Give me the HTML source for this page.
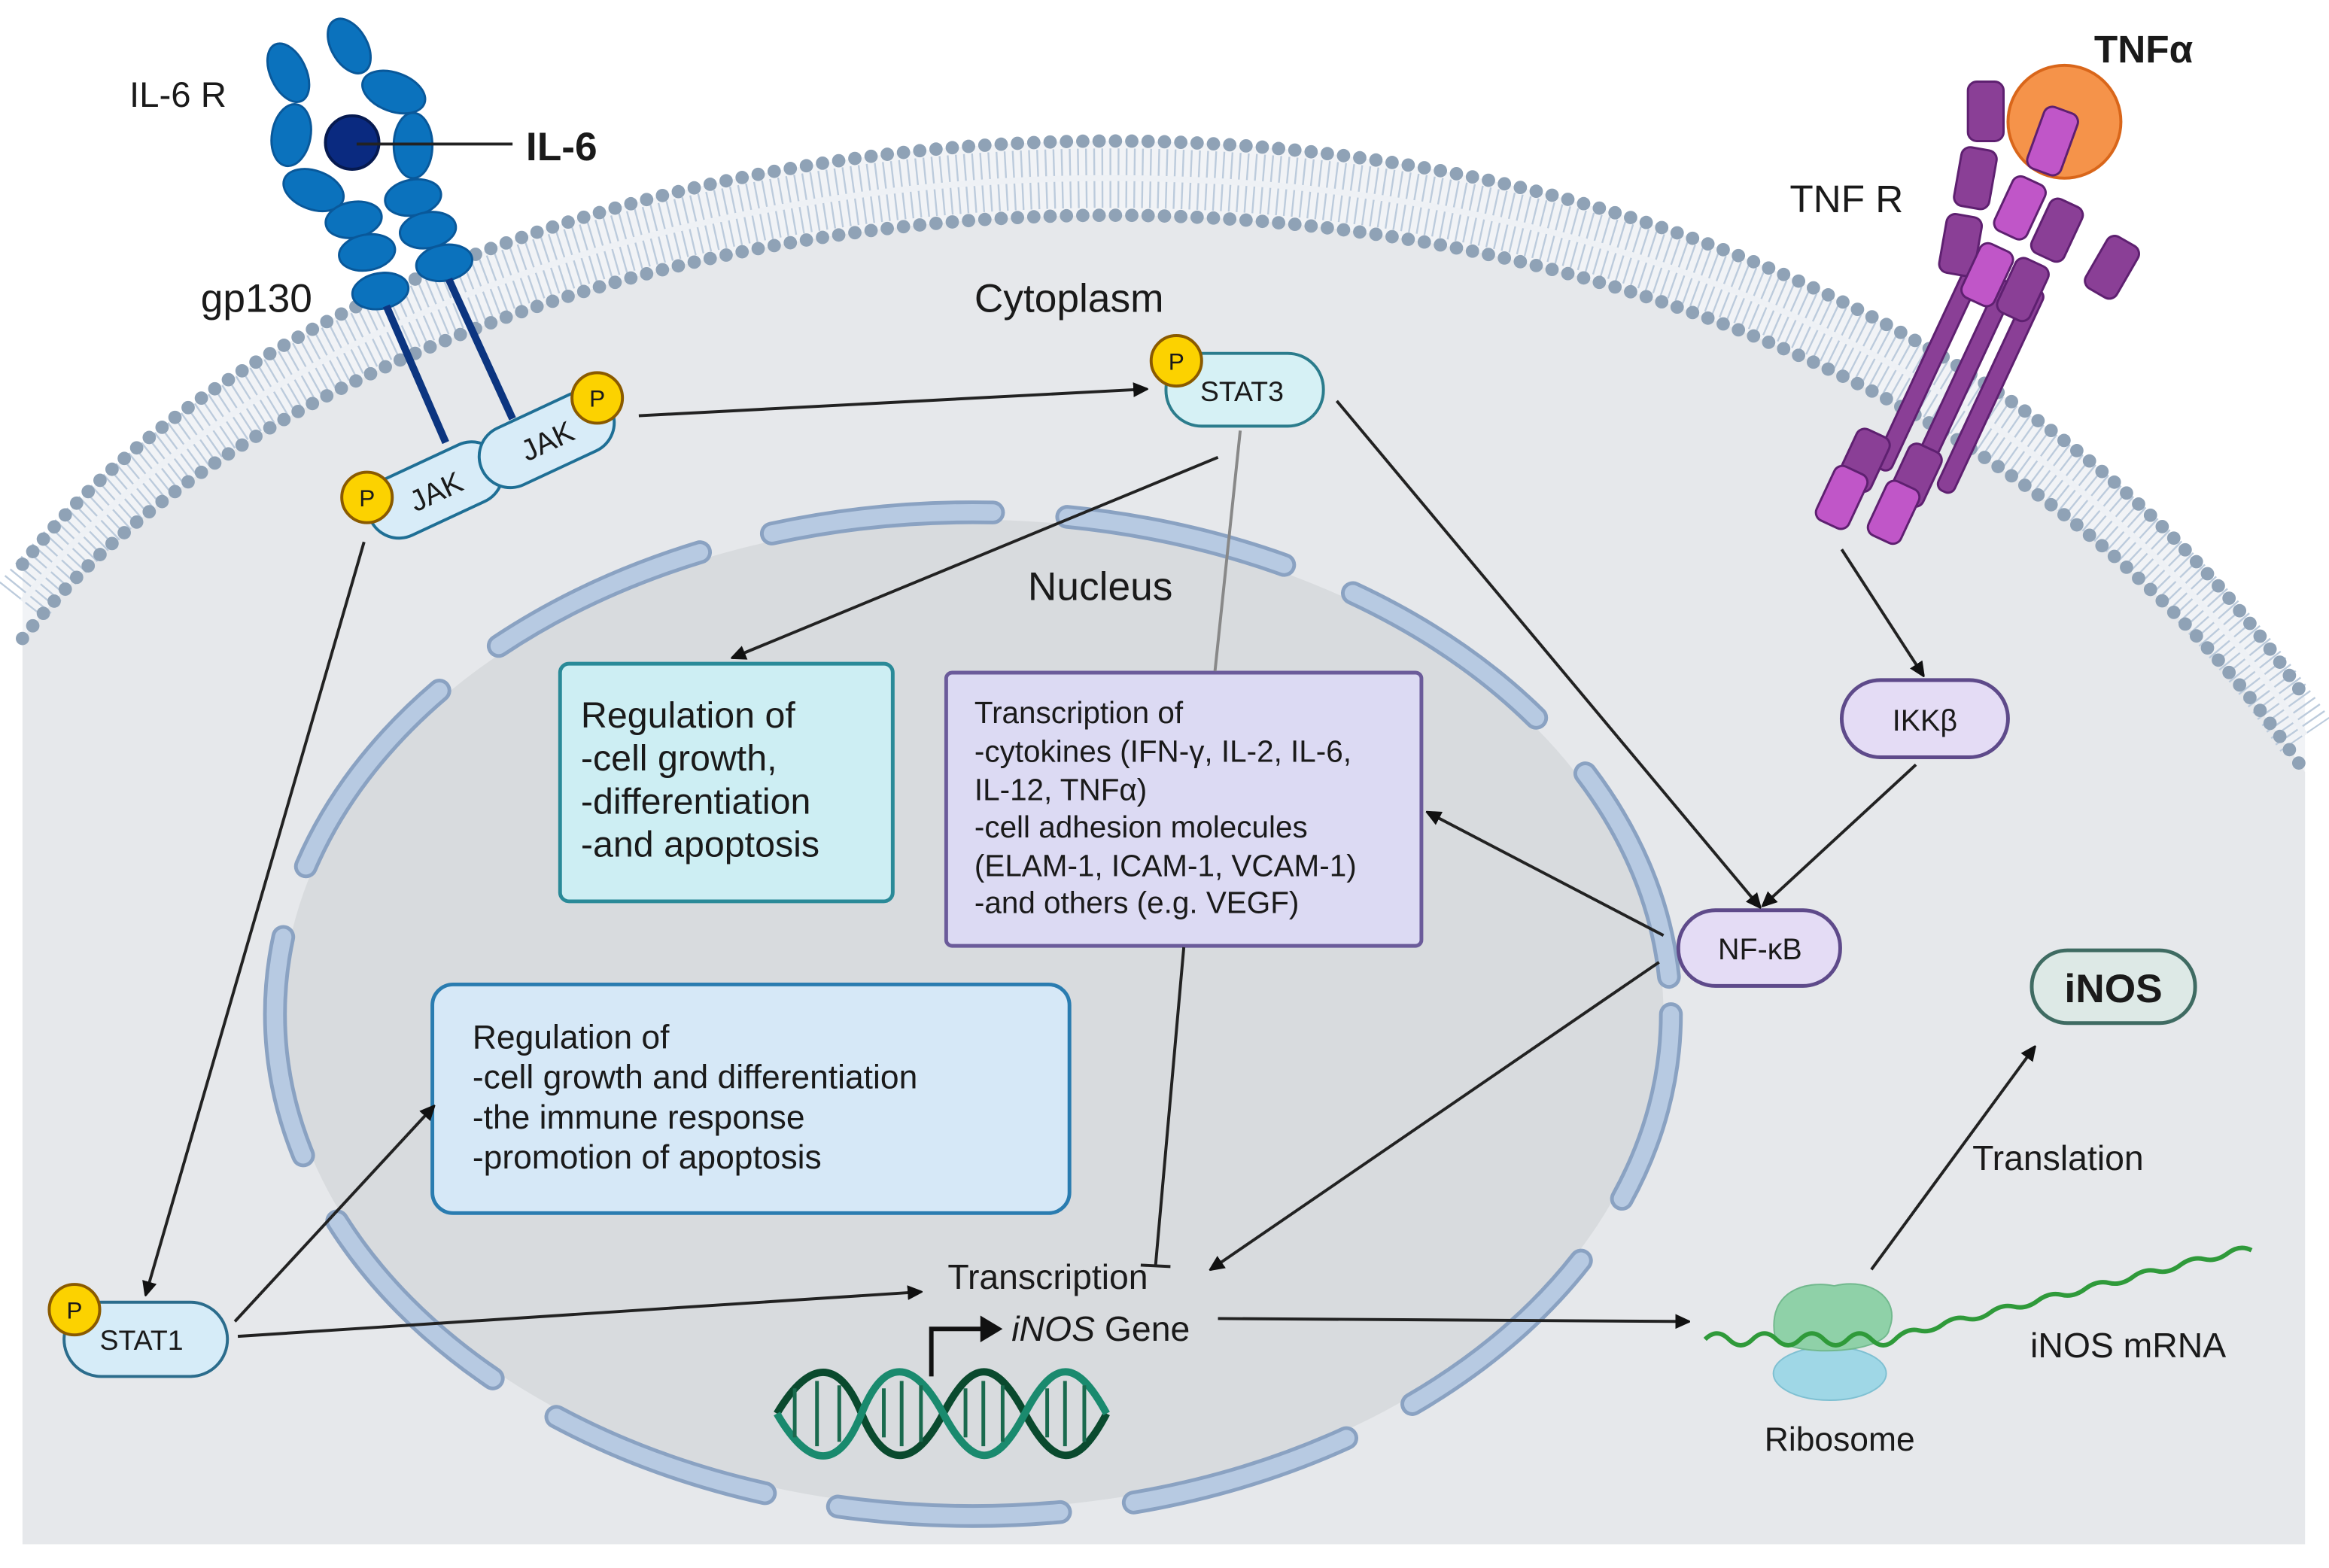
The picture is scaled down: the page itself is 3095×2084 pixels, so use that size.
<!DOCTYPE html>
<html><head><meta charset="utf-8"><style>
html,body{margin:0;padding:0;background:#fff}
svg{display:block}
text{font-family:"Liberation Sans",sans-serif;fill:#1a1a1a}
</style></head><body>
<svg width="3095" height="2084" viewBox="0 0 1568 1056" xmlns="http://www.w3.org/2000/svg">
<defs>
<marker id="ah" markerWidth="10" markerHeight="10" refX="9" refY="5" orient="auto" markerUnits="userSpaceOnUse">
<path d="M0,0 L11,5 L0,10 z" fill="#111"/></marker>
</defs>
<rect width="1568" height="1056" fill="#fff"/>
<!-- cell -->
<path d="M15,380 C300,20 1200,-50 1552,470 L1552,1040 L15,1040 Z" fill="#f1f3f6"/>
<path d="M15,430 C300,70 1200,0 1552,520 L1552,1040 L15,1040 Z" fill="#e6e8eb"/>
<path d="M15,405 C300,45 1200,-25 1552,495" fill="none" stroke="#bccbdc" stroke-width="40" stroke-dasharray="1.2 4.2"/>
<path d="M15,405 C300,45 1200,-25 1552,495" fill="none" stroke="#eef1f5" stroke-width="4"/>
<path d="M15,380 C300,20 1200,-50 1552,470" fill="none" stroke="#8fa2b6" stroke-width="9" stroke-linecap="round" stroke-dasharray="0 11"/>
<path d="M15,430 C300,70 1200,0 1552,520" fill="none" stroke="#8fa2b6" stroke-width="9" stroke-linecap="round" stroke-dasharray="0 11"/>
<!-- nucleus -->
<ellipse cx="655" cy="683" rx="465" ry="333" fill="#d8dbde"/>
<ellipse cx="655" cy="683" rx="470" ry="338" fill="none" stroke="#8aa2c2" stroke-width="16" stroke-linecap="round" stroke-dasharray="150 50" stroke-dashoffset="20"/>
<ellipse cx="655" cy="683" rx="470" ry="338" fill="none" stroke="#b7cae2" stroke-width="11" stroke-linecap="round" stroke-dasharray="150 50" stroke-dashoffset="20"/>
<text x="692" y="404" font-size="27">Nucleus</text>
<text x="656" y="210" font-size="27">Cytoplasm</text>
<!-- IL6 receptor -->
<g fill="#0b72bd" stroke="#09589a" stroke-width="1.5">
<ellipse cx="194" cy="49" rx="12" ry="21" transform="rotate(-25 194 49)"/>
<ellipse cx="196" cy="91" rx="13" ry="21" transform="rotate(10 196 91)"/>
<ellipse cx="211" cy="128" rx="21" ry="13" transform="rotate(20 211 128)"/>
<ellipse cx="238" cy="148" rx="19" ry="12" transform="rotate(-10 238 148)"/>
<ellipse cx="247" cy="170" rx="19" ry="12" transform="rotate(-10 247 170)"/>
<ellipse cx="256" cy="196" rx="19" ry="12" transform="rotate(-10 256 196)"/>
<ellipse cx="235" cy="31" rx="12" ry="20" transform="rotate(-30 235 31)"/>
<ellipse cx="265" cy="62" rx="22" ry="13" transform="rotate(20 265 62)"/>
<ellipse cx="278" cy="98" rx="13" ry="22"/>
<ellipse cx="278" cy="133" rx="19" ry="12" transform="rotate(-10 278 133)"/>
<ellipse cx="288" cy="155" rx="19" ry="12" transform="rotate(-10 288 155)"/>
<ellipse cx="299" cy="177" rx="19" ry="12" transform="rotate(-10 299 177)"/>
</g>
<circle cx="237" cy="96" r="18" fill="#0a2a80" stroke="#061a50" stroke-width="2"/>
<line x1="240" y1="97" x2="345" y2="97" stroke="#222" stroke-width="2"/>
<text x="354" y="108" font-size="27" font-weight="bold">IL-6</text>
<text x="87" y="72" font-size="24">IL-6 R</text>
<text x="135" y="210" font-size="27">gp130</text>
<line x1="260" y1="206" x2="300" y2="298" stroke="#0c3580" stroke-width="5"/>
<line x1="302" y1="188" x2="345" y2="282" stroke="#0c3580" stroke-width="5"/>
<!-- JAKs -->
<g transform="translate(293,330) rotate(-25)">
<rect x="-48" y="-21" width="96" height="42" rx="21" fill="#d8ecf8" stroke="#1f6f95" stroke-width="2"/>
<text x="0" y="8" font-size="20" text-anchor="middle">JAK</text></g>
<g transform="translate(368,296) rotate(-25)">
<rect x="-48" y="-21" width="96" height="42" rx="21" fill="#d8ecf8" stroke="#1f6f95" stroke-width="2"/>
<text x="0" y="8" font-size="20" text-anchor="middle">JAK</text></g>
<circle cx="247" cy="335" r="17" fill="#fcd200" stroke="#8a5a00" stroke-width="2"/><text x="247" y="341" font-size="16" text-anchor="middle">P</text>
<circle cx="402" cy="268" r="17" fill="#fcd200" stroke="#8a5a00" stroke-width="2"/><text x="402" y="274" font-size="16" text-anchor="middle">P</text>
<!-- STAT3 -->
<rect x="785" y="238" width="106" height="49" rx="24" fill="#d6f1f5" stroke="#2b7c8c" stroke-width="2"/>
<text x="808" y="270" font-size="19">STAT3</text>
<circle cx="792" cy="243" r="17" fill="#fcd200" stroke="#8a5a00" stroke-width="2"/><text x="792" y="249" font-size="16" text-anchor="middle">P</text>
<!-- STAT1 -->
<rect x="43" y="877" width="110" height="50" rx="25" fill="#d6ecf8" stroke="#2b6c8c" stroke-width="2"/>
<text x="67" y="909" font-size="19">STAT1</text>
<circle cx="50" cy="882" r="17" fill="#fcd200" stroke="#8a5a00" stroke-width="2"/><text x="50" y="888" font-size="16" text-anchor="middle">P</text>
<!-- TNF receptor -->
<g stroke="#5e2070" stroke-width="1.5">
<g fill="#8a3f96">
<rect x="-6" y="0" width="12" height="150" rx="5" transform="translate(1330,180) rotate(25)"/>
<rect x="-6" y="0" width="12" height="150" rx="5" transform="translate(1352,190) rotate(25)"/>
<rect x="-6" y="0" width="12" height="150" rx="5" transform="translate(1372,195) rotate(25)"/>
<rect x="-12" y="-20" width="24" height="40" rx="6" transform="translate(1337,75) rotate(0)"/>
<rect x="-12" y="-20" width="24" height="40" rx="6" transform="translate(1330,120) rotate(10)"/>
<rect x="-12" y="-20" width="24" height="40" rx="6" transform="translate(1320,165) rotate(10)"/>
<rect x="-12" y="-20" width="24" height="40" rx="6" transform="translate(1422,180) rotate(30)"/>
<rect x="-12" y="-20" width="24" height="40" rx="6" transform="translate(1385,155) rotate(25)"/>
<rect x="-12" y="-20" width="24" height="40" rx="6" transform="translate(1362,195) rotate(25)"/>
<rect x="-12" y="-20" width="24" height="40" rx="6" transform="translate(1255,310) rotate(25)"/>
<rect x="-12" y="-20" width="24" height="40" rx="6" transform="translate(1290,320) rotate(25)"/>
</g>
<circle cx="1390" cy="82" r="38" fill="#f5934a" stroke="#d9661a" stroke-width="2"/>
<g fill="#c056c8">
<rect x="-12" y="-22" width="24" height="44" rx="6" transform="translate(1382,95) rotate(20)"/>
<rect x="-12" y="-20" width="24" height="40" rx="6" transform="translate(1360,140) rotate(25)"/>
<rect x="-12" y="-20" width="24" height="40" rx="6" transform="translate(1338,185) rotate(25)"/>
<rect x="-12" y="-20" width="24" height="40" rx="6" transform="translate(1275,345) rotate(25)"/>
<rect x="-12" y="-20" width="24" height="40" rx="6" transform="translate(1240,335) rotate(25)"/>
</g>
</g>
<text x="1410" y="42" font-size="26" font-weight="bold">TNFα</text>
<text x="1205" y="143" font-size="26">TNF R</text>
<!-- IKK, NFkB, iNOS -->
<rect x="1240" y="458" width="112" height="52" rx="26" fill="#e4dcf5" stroke="#5e4a8a" stroke-width="2.5"/>
<text x="1296" y="492" font-size="20" text-anchor="middle">IKKβ</text>
<rect x="1130" y="613" width="109" height="51" rx="25" fill="#e4dcf5" stroke="#5e4a8a" stroke-width="2.5"/>
<text x="1185" y="646" font-size="20" text-anchor="middle">NF-κB</text>
<rect x="1368" y="640" width="110" height="49" rx="24" fill="#dde9e6" stroke="#3f6b62" stroke-width="2.5"/>
<text x="1423" y="675" font-size="27" font-weight="bold" text-anchor="middle">iNOS</text>
<!-- boxes -->
<rect x="377" y="447" width="224" height="160" rx="6" fill="#cdeef3" stroke="#2a8a98" stroke-width="2.5"/>
<g font-size="24.5"><text x="391" y="490">Regulation of</text><text x="391" y="519">-cell growth,</text><text x="391" y="548">-differentiation</text><text x="391" y="577">-and apoptosis</text></g>
<rect x="637" y="453" width="320" height="184" rx="4" fill="#dcdaf3" stroke="#6b5b9a" stroke-width="2.5"/>
<g font-size="20.5"><text x="656" y="487">Transcription of</text><text x="656" y="513">-cytokines (IFN-γ, IL-2, IL-6,</text><text x="656" y="539">IL-12, TNFα)</text><text x="656" y="564">-cell adhesion molecules</text><text x="656" y="590">(ELAM-1, ICAM-1, VCAM-1)</text><text x="656" y="615">-and others (e.g. VEGF)</text></g>
<rect x="291" y="663" width="429" height="154" rx="14" fill="#d6e8f7" stroke="#2a7cb0" stroke-width="2.5"/>
<g font-size="22.5"><text x="318" y="706">Regulation of</text><text x="318" y="733">-cell growth and differentiation</text><text x="318" y="760">-the immune response</text><text x="318" y="787">-promotion of apoptosis</text></g>
<!-- connectors -->
<g stroke="#222" stroke-width="2" fill="none">
<line x1="430" y1="280" x2="772" y2="262" marker-end="url(#ah)"/>
<line x1="820" y1="308" x2="493" y2="443" marker-end="url(#ah)"/>
<line x1="835" y1="290" x2="818" y2="452" stroke="#888"/>
<line x1="900" y1="270" x2="1185" y2="611" marker-end="url(#ah)"/>
<line x1="1290" y1="515" x2="1187" y2="610" marker-end="url(#ah)"/>
<line x1="1240" y1="370" x2="1295" y2="455" marker-end="url(#ah)"/>
<line x1="1120" y1="630" x2="961" y2="547" marker-end="url(#ah)"/>
<line x1="1117" y1="648" x2="815" y2="855" marker-end="url(#ah)"/>
<line x1="797" y1="638" x2="778" y2="852"/>
<line x1="768" y1="852" x2="788" y2="853"/>
<line x1="245" y1="365" x2="98" y2="872" marker-end="url(#ah)"/>
<line x1="158" y1="890" x2="292" y2="745" marker-end="url(#ah)"/>
<line x1="160" y1="900" x2="620" y2="870" marker-end="url(#ah)"/>
<line x1="820" y1="888" x2="1137" y2="890" marker-end="url(#ah)"/>
<line x1="1260" y1="855" x2="1370" y2="705" marker-end="url(#ah)"/>
</g>
<text x="638" y="868" font-size="23.5">Transcription</text>
<text x="681" y="903" font-size="23.5"><tspan font-style="italic">iNOS</tspan> Gene</text>
<text x="1328" y="788" font-size="23.5">Translation</text>
<text x="1367" y="914" font-size="23.5">iNOS mRNA</text>
<text x="1188" y="977" font-size="22.5">Ribosome</text>
<!-- promoter arrow -->
<path d="M627,927 V895 H662" fill="none" stroke="#111" stroke-width="3"/>
<path d="M660,886 L675,895 L660,904 z" fill="#111"/>
<!-- DNA -->
<g fill="none" stroke-width="5">
<path d="M523,952 C545,915 565,915 580,952 S615,990 635,952 S670,915 690,952 S725,990 745,952" stroke="#0a4a2e"/>
<path d="M523,952 C545,990 565,990 580,952 S615,915 635,952 S670,990 690,952 S725,915 745,952" stroke="#1a8a6e"/>
</g>
<g stroke="#1a6a4e" stroke-width="2.5">
<line x1="535" y1="935" x2="535" y2="968"/><line x1="550" y1="930" x2="550" y2="974"/><line x1="565" y1="933" x2="565" y2="971"/>
<line x1="595" y1="935" x2="595" y2="968"/><line x1="607" y1="930" x2="607" y2="974"/><line x1="620" y1="933" x2="620" y2="971"/>
<line x1="650" y1="935" x2="650" y2="968"/><line x1="662" y1="930" x2="662" y2="974"/><line x1="675" y1="933" x2="675" y2="971"/>
<line x1="705" y1="935" x2="705" y2="968"/><line x1="717" y1="930" x2="717" y2="974"/><line x1="730" y1="933" x2="730" y2="971"/>
</g>
<!-- ribosome + mRNA -->
<ellipse cx="1232" cy="925" rx="38" ry="18" fill="#9fd7e6" stroke="#7fc0d2"/>
<path d="M1195,900 C1190,870 1215,862 1235,866 C1260,860 1280,875 1272,895 C1270,912 1205,915 1195,900 z" fill="#8fd1a8" stroke="#72b98e"/>
<path d="M1148,902 q8,-8 16,0 t16,0 t16,0 t16,0 t16,0 t16,0 t16,0 t16,0 t16,-6 t16,-4 t16,-4 t16,-4 t16,-4 t16,-4 t16,-4 t16,-4 t16,-4 t16,-4 t16,-4 t16,-4 t16,-4 t16,-4 t16,-2" fill="none" stroke="#2f9a3a" stroke-width="3"/>
</svg>
</body></html>
